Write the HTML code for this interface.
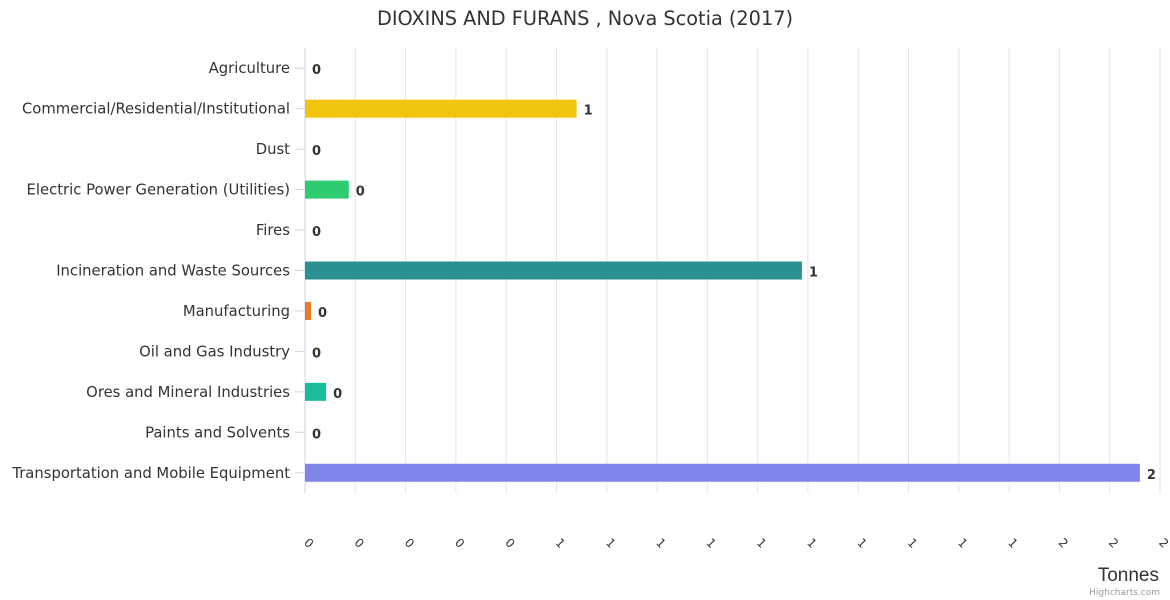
<!DOCTYPE html>
<html><head><meta charset="utf-8"><style>
body{margin:0;background:#fff;}
svg{display:block;font-family:"DejaVu Sans","Liberation Sans",sans-serif;}
</style></head><body>
<svg id="chart" width="1170" height="600">
<text x="585" y="25" text-anchor="middle" font-size="19.3" fill="#333">DIOXINS AND FURANS , Nova Scotia (2017)</text>
<g id="grid"></g><g id="bars"></g><g id="ylabels"></g><g id="xlabels"></g>
<text x="1159" y="581" text-anchor="end" font-size="19" fill="#333" font-family="Liberation Sans, sans-serif">Tonnes</text>
<text x="1160" y="595" text-anchor="end" font-size="9" fill="#999">Highcharts.com</text>
</svg>
<script>
const categories=["Agriculture","Commercial/Residential/Institutional","Dust","Electric Power Generation (Utilities)","Fires","Incineration and Waste Sources","Manufacturing","Oil and Gas Industry","Ores and Mineral Industries","Paints and Solvents","Transportation and Mobile Equipment"];
const values=[0,0.54,0,0.087,0,0.988,0.012,0,0.042,0,1.66];
const colors=["#7cb5ec","#f1c40f","#90ed7d","#2ecc71","#8085e9","#2a9090","#e67e22","#f45b5b","#1abc9c","#91e8e1","#8085e9"];
const ticks=[0,0.1,0.2,0.3,0.4,0.5,0.6,0.7,0.8,0.9,1.0,1.1,1.2,1.3,1.4,1.5,1.6,1.7];
const X0=305,X1=1160,T=48,B=493,xMax=1.7;
const x=v=>X0+(v/xMax)*(X1-X0);
const band=(B-T)/categories.length;
const yc=i=>T+band*(i+0.5);
const NS="http://www.w3.org/2000/svg";
function mk(tag,attrs,parent,txt){const e=document.createElementNS(NS,tag);for(const k in attrs)e.setAttribute(k,attrs[k]);if(txt!==undefined)e.textContent=txt;document.getElementById(parent).appendChild(e);return e;}
ticks.forEach((t,i)=>{
 const g=mk('line',{x1:x(t),x2:x(t),y1:T,y2:B,stroke:i==0?'#ccd6eb':'#e6e6e6','stroke-width':1},'grid');
 
 
 const l=mk('text',{transform:`translate(${x(t)+1},${546}) rotate(45)`,'font-size':12,fill:'#333','text-anchor':'middle'},'xlabels',Math.round(t).toString());
 
 
});
categories.forEach((c,i)=>{
 const tk=mk('line',{x1:X0-10,x2:X0,y1:yc(i),y2:yc(i),stroke:'#ccd6eb'},'grid');
 
 
 const lab=mk('text',{x:290,y:yc(i)+5,'text-anchor':'end','font-size':14.8,fill:'#333'},'ylabels',c);
 
 
 const w=Math.max(0,x(values[i])-X0);
 const r=mk('rect',{x:X0,y:yc(i)-9,width:w,height:18,fill:colors[i]},'bars');
 
 
 const v=mk('text',{x:X0+w+7,y:yc(i)+6,'font-size':13,'font-weight':'bold',fill:'#333'},'bars',Math.round(values[i]).toString());
 
 
});
</script>
</body></html>
